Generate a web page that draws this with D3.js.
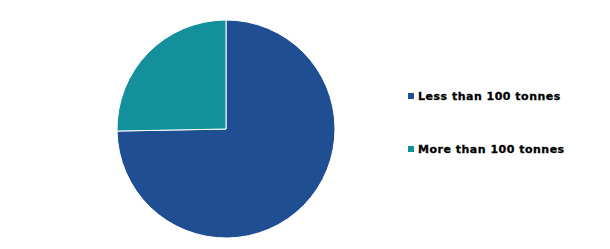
<!DOCTYPE html>
<html>
<head>
<meta charset="utf-8">
<script src="https://cdn.jsdelivr.net/npm/d3@7"></script>
<style>
  body { margin: 0; background: #fff; }
</style>
</head>
<body>
<div id="chart"></div>
<script>
const categories = ['Less than 100 tonnes', 'More than 100 tonnes'];
const shares = [74.7, 25.3];
const colors = ['#1f4e92', '#13909b'];

const width = 610, height = 249;
const cx = 226, cy = 129, radius = 109;

const svg = d3.select('#chart').append('svg')
  .attr('width', width)
  .attr('height', height);

const data = categories.map((c, i) => ({ name: c, value: shares[i] }));

const pie = d3.pie().sort(null).value(d => d.value);
const arc = d3.arc().innerRadius(0).outerRadius(radius);

svg.append('g')
  .attr('transform', `translate(${cx},${cy})`)
  .selectAll('path')
  .data(pie(data))
  .join('path')
    .attr('d', arc)
    .attr('fill', (d, i) => colors[i])
    .attr('stroke', '#fff')
    .attr('stroke-width', 1);

// legend
const color = d3.scaleOrdinal().domain(categories).range(colors);
const ly = d3.scalePoint().domain(categories).range([96, 149]);

const legend = svg.append('g')
  .selectAll('g')
  .data(categories)
  .join('g')
    .attr('transform', d => `translate(408,${ly(d)})`);

legend.append('rect')
  .attr('x', 0)
  .attr('y', -3)
  .attr('width', 6)
  .attr('height', 6)
  .attr('fill', d => color(d));

legend.append('text')
  .attr('x', 10)
  .attr('y', 4)
  .style('font-family', '"DejaVu Sans", Verdana, sans-serif')
  .style('font-size', '11px')
  .style('font-weight', 'bold')
  .style('letter-spacing', '0.5px')
  .attr('fill', '#000')
  .attr('stroke', '#000')
  .attr('stroke-width', 0.3)
  .text(d => d);
</script>
</body>
</html>
